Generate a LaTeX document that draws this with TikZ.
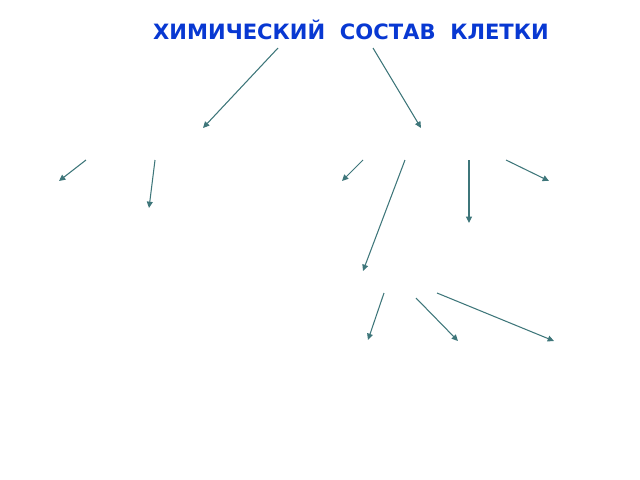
\documentclass[tikz,border=0pt]{standalone}
\usepackage{fontspec}
\setmainfont{DejaVu Sans}
\usetikzlibrary{arrows.meta}
\definecolor{nyil}{RGB}{62,118,122}
\definecolor{cimkek}{RGB}{8,56,210}
\tikzset{
    nyilak/.style = {draw = nyil, line width = 0.75pt, -{Triangle[length = 4.5pt, width = 4.2pt]}},
    cim/.style = {text = cimkek, font = \bfseries\fontsize{15}{18}\selectfont, inner sep = 0pt}
}
\begin{document}
\begin{tikzpicture}[x = 0.025cm, y = -0.025cm]
    \useasboundingbox (0,0) rectangle (640,480);
    \node[cim] (cim) at (351,30) {ХИМИЧЕСКИЙ\ \ СОСТАВ\ \ КЛЕТКИ};
    %kezdo es vegpontok, pixelben
    \foreach \n/\ax/\ay/\bx/\by in {1/278/48/203/128, 2/373/48/421/128, 3/86/160/59/181,
            4/155/160/149/208, 5/363/160/342/181, 6/405/160/363/271,
            7/469/160/469/223, 8/506/160/549/181, 9/384/293/368/340,
            10/416/298/458/341, 11/437/293/554/341}{
        \coordinate (k\n) at (\ax,\ay);
        \coordinate (v\n) at (\bx,\by);
        \draw[nyilak] (k\n) -- (v\n);
    }
\end{tikzpicture}
\end{document}
